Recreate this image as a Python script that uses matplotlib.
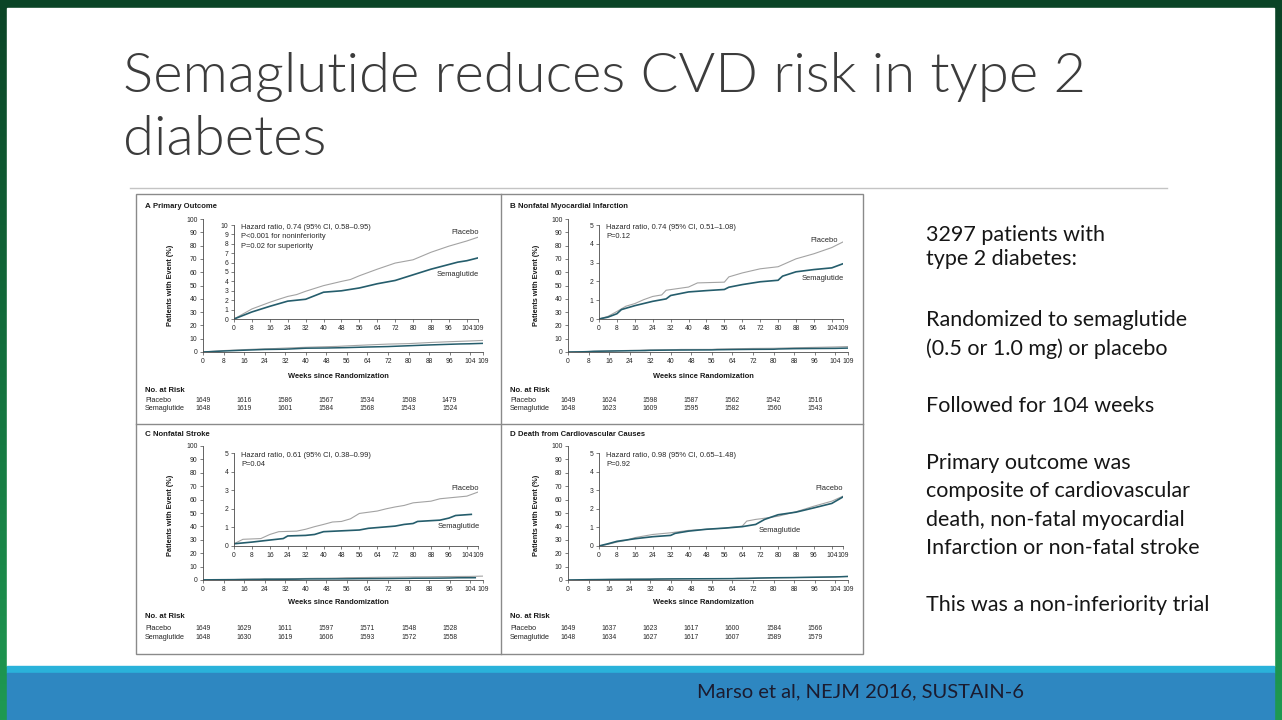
import matplotlib
matplotlib.use('Agg')
import matplotlib.pyplot as plt
import matplotlib.transforms as mtransforms
from matplotlib.patches import Rectangle
from matplotlib.colors import LinearSegmentedColormap
from matplotlib import font_manager
import numpy as np

# ---------------- data ----------------
title_lines = ["Semaglutide reduces CVD risk in type 2", "diabetes"]
side_text = [
    ("3297 patients with", 235), ("type 2 diabetes:", 259),
    ("Randomized to semaglutide", 320), ("(0.5 or 1.0 mg) or placebo", 349),
    ("Followed for 104 weeks", 406),
    ("Primary outcome was", 463), ("composite of cardiovascular", 491),
    ("death, non-fatal myocardial", 520), ("Infarction or non-fatal stroke", 548),
    ("This was a non-inferiority trial", 605),
]
footer = "Marso et al, NEJM 2016, SUSTAIN-6"

xticks = [0, 8, 16, 24, 32, 40, 48, 56, 64, 72, 80, 88, 96, 104, 109]
risk_weeks = [0, 16, 32, 48, 64, 80, 96]

titles = ["Primary Outcome", "Nonfatal Myocardial Infarction",
          "Nonfatal Stroke", "Death from Cardiovascular Causes"]
letters = ["A", "B", "C", "D"]

notes = [
    ["Hazard ratio, 0.74 (95% CI, 0.58\u20130.95)", "P<0.001 for noninferiority", "P=0.02 for superiority"],
    ["Hazard ratio, 0.74 (95% CI, 0.51\u20131.08)", "P=0.12"],
    ["Hazard ratio, 0.61 (95% CI, 0.38\u20130.99)", "P=0.04"],
    ["Hazard ratio, 0.98 (95% CI, 0.65\u20131.48)", "P=0.92"],
]
inset_ymax = [10, 5, 5, 5]

placebo_weeks_A = [0, 8, 16, 20, 24, 28, 32, 40, 48, 52, 56, 64, 72, 80, 88, 96, 104, 109]
placebo_A = [0, 1.07, 1.78, 2.1, 2.4, 2.6, 2.95, 3.55, 4.0, 4.2, 4.6, 5.3, 5.95, 6.3, 7.1, 7.75, 8.3, 8.7]
sema_weeks_A = [0, 8, 16, 24, 32, 40, 48, 56, 64, 72, 80, 88, 96, 100, 104, 109]
sema_A = [0, 0.75, 1.35, 1.9, 2.1, 2.85, 3.0, 3.3, 3.75, 4.1, 4.7, 5.3, 5.8, 6.05, 6.2, 6.5]

placebo_weeks_B = [0, 4, 8, 12, 16, 20, 24, 28, 30, 40, 44, 56, 58, 64, 72, 80, 88, 96, 104, 109]
placebo_B = [0, 0.14, 0.4, 0.68, 0.82, 1.03, 1.2, 1.28, 1.53, 1.7, 1.92, 1.96, 2.24, 2.45, 2.67, 2.78, 3.2, 3.47, 3.8, 4.1]
sema_weeks_B = [0, 4, 8, 10, 16, 24, 30, 32, 40, 48, 56, 58, 64, 72, 80, 82, 88, 96, 104, 109]
sema_B = [0, 0.1, 0.28, 0.5, 0.71, 0.94, 1.07, 1.25, 1.44, 1.51, 1.57, 1.69, 1.83, 1.98, 2.06, 2.28, 2.51, 2.63, 2.72, 2.94]

placebo_weeks_C = [0, 4, 12, 16, 20, 28, 32, 36, 40, 44, 48, 52, 56, 64, 68, 72, 76, 80, 88, 92, 104, 109]
placebo_C = [0.12, 0.36, 0.4, 0.62, 0.77, 0.8, 0.9, 1.04, 1.16, 1.29, 1.32, 1.46, 1.75, 1.88, 2.0, 2.1, 2.18, 2.32, 2.41, 2.54, 2.68, 2.9]
sema_weeks_C = [0, 8, 16, 22, 24, 32, 36, 40, 56, 60, 72, 76, 80, 82, 92, 96, 99, 106]
sema_C = [0.12, 0.21, 0.32, 0.4, 0.54, 0.57, 0.62, 0.77, 0.86, 0.95, 1.07, 1.16, 1.21, 1.32, 1.39, 1.5, 1.64, 1.7]

placebo_weeks_D = [0, 4, 8, 12, 16, 24, 32, 40, 48, 56, 64, 66, 70, 72, 80, 88, 96, 104, 109]
placebo_D = [0, 0.09, 0.21, 0.3, 0.45, 0.62, 0.71, 0.84, 0.9, 0.96, 1.07, 1.34, 1.43, 1.46, 1.6, 1.84, 2.14, 2.41, 2.68]
sema_weeks_D = [0, 4, 8, 16, 24, 32, 34, 40, 48, 56, 64, 70, 74, 80, 88, 96, 104, 109]
sema_D = [0, 0.12, 0.25, 0.39, 0.5, 0.57, 0.68, 0.8, 0.9, 0.96, 1.04, 1.16, 1.43, 1.68, 1.82, 2.05, 2.29, 2.64]

risk_placebo = [
    [1649, 1616, 1586, 1567, 1534, 1508, 1479],
    [1649, 1624, 1598, 1587, 1562, 1542, 1516],
    [1649, 1629, 1611, 1597, 1571, 1548, 1528],
    [1649, 1637, 1623, 1617, 1600, 1584, 1566],
]
risk_sema = [
    [1648, 1619, 1601, 1584, 1568, 1543, 1524],
    [1648, 1623, 1609, 1595, 1582, 1560, 1543],
    [1648, 1630, 1619, 1606, 1593, 1572, 1558],
    [1648, 1634, 1627, 1617, 1607, 1589, 1579],
]

placebo_series = [(placebo_weeks_A, placebo_A), (placebo_weeks_B, placebo_B),
                  (placebo_weeks_C, placebo_C), (placebo_weeks_D, placebo_D)]
sema_series = [(sema_weeks_A, sema_A), (sema_weeks_B, sema_B),
               (sema_weeks_C, sema_C), (sema_weeks_D, sema_D)]

# ---------------- figure ----------------
W, H = 1282, 720
fig = plt.figure(figsize=(W / 100, H / 100), dpi=100)
SLIDE = ['Lato', 'DejaVu Sans']
CHART = ['Liberation Sans', 'DejaVu Sans']
installed = {f.name for f in font_manager.fontManager.ttflist}
if 'Liberation Sans Narrow' in installed:
    NUM = ['Liberation Sans Narrow', 'DejaVu Sans']
    NUM_SIZE = 5.6
else:
    NUM = CHART
    NUM_SIZE = 4.9

bg = fig.add_axes([0, 0, 1, 1])
bg.set_xlim(0, W)
bg.set_ylim(H, 0)
bg.axis('off')

# green frame with vertical gradient
grad = np.linspace(0, 1, 256).reshape(-1, 1)
gcm = LinearSegmentedColormap.from_list('g', ['#0b4326', '#13703d', '#1f9a52'])
bg.imshow(grad, extent=[0, W, H, 0], cmap=gcm, aspect='auto', zorder=0)
bg.add_patch(Rectangle((0, 0), W, 8, color='#0a4426', zorder=1))
bg.add_patch(Rectangle((7, 8), 1267, 658, color='white', zorder=1))
bg.add_patch(Rectangle((7, 666), 1267, 7, color='#2ab2da', zorder=1))
bg.add_patch(Rectangle((7, 673), 1267, 47, color='#2e87c1', zorder=1))

# title
for txt, yb in zip(title_lines, [92, 155]):
    bg.text(123, yb, txt, fontsize=40.5, family=SLIDE, fontweight=300,
            color='#3c3c3c', ha='left', va='baseline', zorder=3)
bg.plot([130, 1167], [187.5, 187.5], color='#c4c4c4', lw=1, zorder=3)

for s, y in side_text:
    bg.text(926, y, s, fontsize=15.5, family=SLIDE, color='#161616',
            ha='left', va='center', zorder=3)
bg.text(697, 692, footer, fontsize=14.5, family=SLIDE, color='#1b1c30',
        ha='left', va='center', zorder=3)

# chart box
bg.add_patch(Rectangle((136, 194), 727, 460, facecolor='white', edgecolor='#8a8a8a',
                       lw=1, zorder=2))
bg.plot([501, 501], [194, 654], color='#8a8a8a', lw=1, zorder=3)
bg.plot([136, 863], [424, 424], color='#8a8a8a', lw=1, zorder=3)


def ax_px(x0, y0, x1, y1):
    return fig.add_axes([x0 / W, 1 - y1 / H, (x1 - x0) / W, (y1 - y0) / H])


rows = [
    dict(label=207, o_top=219, o_bot=352, i_top=225, i_bot=319, weeks=376,
         risk=391, r1=400, r2=409, ylab=285),
    dict(label=434, o_top=446, o_bot=580, i_top=453, i_bot=546, weeks=603,
         risk=617, r1=629, r2=637.5, ylab=515),
]
label_pos = [((451, 233), (437, 274)), ((810, 241), (802, 278)),
             ((451, 489), (438, 527)), ((815, 489), (759, 531))]

PL_COL = '#a3a3a3'
SE_COL = '#255d6c'
SP_COL = '#4a4a4a'
TXT = '#262626'


def style(ax, ymax, yt):
    ax.set_facecolor('none')
    for s in ['top', 'right']:
        ax.spines[s].set_visible(False)
    for s in ['left', 'bottom']:
        ax.spines[s].set_color(SP_COL)
        ax.spines[s].set_linewidth(0.6)
    ax.set_xlim(0, 109)
    ax.set_ylim(0, ymax)
    ax.set_xticks(xticks)
    ax.set_yticks(yt)
    ax.tick_params(length=2, width=0.5, color=SP_COL, labelsize=NUM_SIZE, pad=2,
                   labelcolor=TXT)
    for lab in ax.get_xticklabels() + ax.get_yticklabels():
        lab.set_family(NUM)


for k in range(4):
    r = rows[k // 2]
    dx = 365 * (k % 2)
    # panel title
    bg.text(145 + dx, r['label'], letters[k], fontsize=5.8, fontweight='bold',
            family=CHART, color='#1a1a1a', ha='left', va='center', zorder=4)
    bg.text(153 + dx, r['label'], titles[k], fontsize=5.5, fontweight='bold',
            family=CHART, color='#1a1a1a', ha='left', va='center', zorder=4)
    # outer axes
    ax = ax_px(203 + dx, r['o_top'], 483 + dx, r['o_bot'])
    style(ax, 100, range(0, 101, 10))
    pw, pv = placebo_series[k]
    sw, sv = sema_series[k]
    ax.plot(pw, pv, color=PL_COL, lw=0.8)
    ax.plot(sw, sv, color=SE_COL, lw=1.1)
    bg.text(338 + dx, r['weeks'], "Weeks since Randomization", fontsize=5.4,
            fontweight='bold', family=CHART, color='#1a1a1a', ha='center',
            va='center', zorder=4)
    bg.text(171 + dx, r['ylab'], "Patients with Event (%)", fontsize=5.3,
            fontweight='bold', family=CHART, color='#1a1a1a', ha='center',
            va='center', rotation=90, zorder=4)
    # inset
    ymax = inset_ymax[k]
    ai = ax_px(234 + dx, r['i_top'], 478 + dx, r['i_bot'])
    style(ai, ymax, range(0, ymax + 1))
    ai.plot(pw, pv, color=PL_COL, lw=0.8)
    ai.plot(sw, sv, color=SE_COL, lw=1.2)
    for j, line in enumerate(notes[k]):
        bg.text(241 + dx, r['i_top'] + 2.5 + 9.5 * j, line, fontsize=5.4,
                family=CHART, color=TXT, ha='left', va='center', zorder=4)
    (px, py), (sx, sy) = label_pos[k]
    bg.text(px, py, "Placebo", fontsize=5.4, family=CHART, color=TXT,
            ha='left', va='center', zorder=4)
    bg.text(sx, sy, "Semaglutide", fontsize=5.4, family=CHART, color=TXT,
            ha='left', va='center', zorder=4)
    # risk table
    bg.text(145 + dx, r['risk'], "No. at Risk", fontsize=5.6, fontweight='bold',
            family=CHART, color='#1a1a1a', ha='left', va='center', zorder=4)
    bg.text(145 + dx, r['r1'], "Placebo", fontsize=5.2, family=CHART,
            color=TXT, ha='left', va='center', zorder=4)
    bg.text(145 + dx, r['r2'], "Semaglutide", fontsize=5.2, family=CHART,
            color=TXT, ha='left', va='center', zorder=4)
    tr = mtransforms.blended_transform_factory(ax.transData, bg.transData)
    for wk, n1, n2 in zip(risk_weeks, risk_placebo[k], risk_sema[k]):
        bg.text(wk, r['r1'], str(n1), transform=tr, fontsize=NUM_SIZE, family=NUM,
                color=TXT, ha='center', va='center', zorder=4)
        bg.text(wk, r['r2'], str(n2), transform=tr, fontsize=NUM_SIZE, family=NUM,
                color=TXT, ha='center', va='center', zorder=4)

fig.savefig('out.png', dpi=100)
